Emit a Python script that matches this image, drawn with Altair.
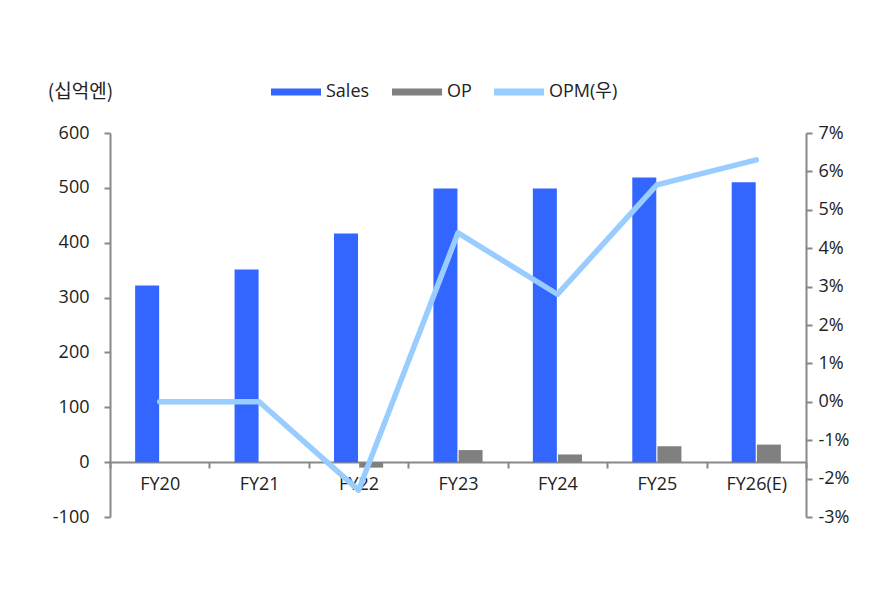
import altair as alt
import pandas as pd

categories = ["FY20", "FY21", "FY22", "FY23", "FY24", "FY25", "FY26(E)"]
sales = [322, 351, 417, 499, 499, 519, 510]
op = [0, 0, -10, 22, 14, 29, 32]
opm = [0.0, 0.0, -2.3, 4.4, 2.8, 5.65, 6.3]
series_names = ["Sales", "OP", "OPM(우)"]
series_colors = ["#3366FF", "#808080", "#99CCFF"]
left_ticks = [-100, 0, 100, 200, 300, 400, 500, 600]
right_ticks = [-3, -2, -1, 0, 1, 2, 3, 4, 5, 6, 7]

bar_df = pd.DataFrame({
    "cat": categories * 2,
    "series": ["Sales"] * len(categories) + ["OP"] * len(categories),
    "value": sales + op,
})
line_df = pd.DataFrame({"cat": categories, "series": ["OPM(우)"] * len(categories), "opm": opm})

FONT = "Open Sans, Noto Sans CJK KR, sans-serif"
KFONT = "Noto Sans CJK KR, sans-serif"
AX = "#888888"
TXT = "#222222"
FS = 18

color = alt.Color(
    "series:N",
    scale=alt.Scale(domain=series_names, range=series_colors),
    legend=alt.Legend(
        orient="none", legendX=161, legendY=-66, direction="horizontal", title=None,
        symbolType="M-1,-0.14H1V0.14H-1Z", symbolSize=2500, symbolStrokeWidth=0,
        labelFontSize=FS, labelFont=FONT, labelColor=TXT, columnPadding=22,
        labelOffset=5, padding=0,
    ),
)

x_axis = alt.Axis(
    title=None, labelAngle=0, tickBand="extent", offset=-55,
    domainColor=AX, domainWidth=2, tickColor=AX, tickWidth=2, tickSize=6,
    labelPadding=7, labelFontSize=FS, labelColor=TXT, labelFont=FONT,
)

bars = alt.Chart(bar_df).mark_bar().encode(
    x=alt.X("cat:N", sort=categories, scale=alt.Scale(paddingInner=0, paddingOuter=0), axis=x_axis),
    xOffset=alt.XOffset("series:N", sort=["Sales", "OP"], scale=alt.Scale(paddingInner=0.045, paddingOuter=1)),
    y=alt.Y(
        "value:Q",
        scale=alt.Scale(domain=[-100, 600], nice=False, zero=False),
        axis=alt.Axis(
            values=left_ticks, labelExpr="'' + datum.value", grid=False,
            title="(십억엔)", titleAngle=0, titleX=-30, titleY=-42, titleAlign="center",
            titleBaseline="middle", titleFontSize=19, titleFontWeight="normal",
            titleFont=KFONT, titleColor=TXT,
            domainColor=AX, domainWidth=2, tickColor=AX, tickWidth=2, tickSize=6,
            labelPadding=15, labelFontSize=FS, labelColor=TXT, labelFont=FONT,
        ),
    ),
    color=color,
)

line = alt.Chart(line_df).mark_line(strokeWidth=5.5, strokeCap="round", strokeJoin="round").encode(
    x=alt.X("cat:N", sort=categories),
    y=alt.Y(
        "opm:Q",
        scale=alt.Scale(domain=[-3, 7], nice=False, zero=False),
        axis=alt.Axis(
            orient="right", values=right_ticks, labelExpr="datum.value + '%'", grid=False,
            title=None,
            domainColor=AX, domainWidth=2, tickColor=AX, tickWidth=2, tickSize=6,
            labelPadding=6, labelFontSize=FS, labelColor=TXT, labelFont=FONT,
        ),
    ),
    color=color,
)

chart = alt.layer(bars, line).resolve_scale(y="independent").properties(
    width=696, height=384,
    padding={"left": 102, "top": 125, "right": 60, "bottom": 80},
    autosize=alt.AutoSizeParams(type="none"),
).configure_view(stroke=None)

chart.save("out.html", embed_options={"renderer": "svg", "actions": False})
